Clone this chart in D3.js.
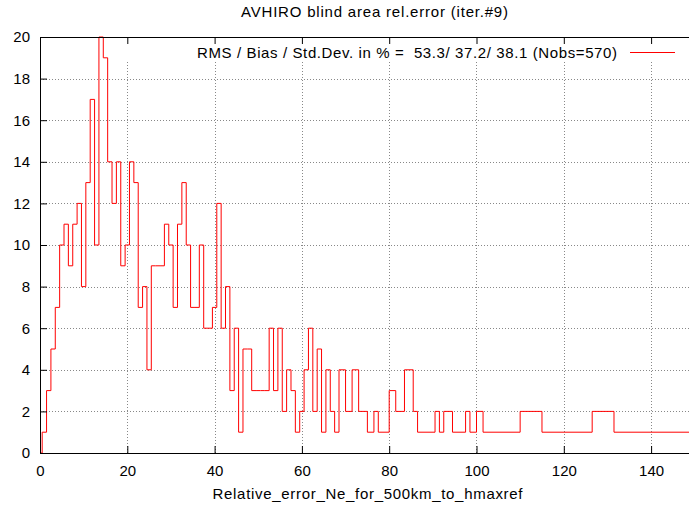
<!DOCTYPE html>
<html>
<head>
<meta charset="utf-8">
<script src="https://cdn.jsdelivr.net/npm/d3@7"></script>
<style>
  html, body { margin: 0; padding: 0; background: #fff; }
  svg { display: block; font-family: "Liberation Sans", Arial, sans-serif; }
</style>
</head>
<body>
<svg id="chart" width="689" height="508"></svg>
<script>
// Histogram of relative error: each step starts at stepStart[i] and holds counts[i]
const stepStart = [
  0, 0.5, 1.5, 2.5, 3.5, 4.5, 5.5, 6.5, 7.5, 8.5, 9.5,
  10.5, 11.5, 12.5, 13.5, 14.5, 15.5, 16.5, 17.5, 18.5, 19.5,
  20.5, 21.5, 22.5, 23.5, 24.5, 25.5, 26.5, 27.5, 28.5, 29.5,
  30.5, 31.5, 32.5, 33.5, 34.5, 35.5, 36.5, 37.5, 38.5, 39.5,
  40.5, 41.5, 42.5, 43.5, 44.5, 45.5, 46.5, 47.5, 48.5, 49.5,
  50.5, 51.5, 52.5, 53.5, 54.5, 55.5, 56.5, 57.5, 58.5, 59.5,
  60.5, 61.5, 62.5, 63.5, 64.5, 65.5, 66.5, 67.5,
  68.5, 70, 71.5, 73, 75, 76.5, 77.5, 80, 81.5, 83.5, 85.5, 86.5,
  90.5, 91.5, 92.5, 94.5, 97.5, 98.5, 100, 101.5, 110, 115, 126.5, 131.5
];
const counts = [
  0, 1, 3, 5, 7, 10, 11, 9, 11, 12, 8,
  13, 17, 10, 20, 19, 14, 12, 14, 9, 10,
  14, 13, 7, 8, 4, 9, 9, 9, 11, 10,
  7, 11, 13, 10, 7, 7, 10, 6, 6, 7,
  12, 6, 8, 3, 6, 1, 5, 5, 3, 3,
  3, 3, 6, 3, 6, 2, 4, 3, 1, 2,
  4, 6, 2, 5, 1, 4, 2, 1,
  4, 2, 4, 2, 1, 2, 1, 3, 2, 4, 2, 1,
  2, 1, 2, 1, 2, 1, 2, 1, 2, 1, 2, 1
];
const xEnd = 150;

const xTicks = [0, 20, 40, 60, 80, 100, 120, 140];
const yTicks = [0, 2, 4, 6, 8, 10, 12, 14, 16, 18, 20];

const titleText = "AVHIRO blind area rel.error (iter.#9)";
const xLabel = "Relative_error_Ne_for_500km_to_hmaxref";
const keyText = "RMS / Bias / Std.Dev. in % =  53.3/ 37.2/ 38.1 (Nobs=570)";

const svg = d3.select("#chart");
const plotLeft = 40, plotBottom = 453, plotTop = 37;
const x = d3.scaleLinear().domain([0, 150]).range([plotLeft, plotLeft + 150 * 4.365]);
const y = d3.scaleLinear().domain([0, 20]).range([plotBottom, plotTop]);
const plotRight = x.range()[1];

// grid
const grid = svg.append("g").attr("stroke", "#888").attr("stroke-width", 1)
  .attr("stroke-dasharray", "1,2");
grid.selectAll(".gy").data(yTicks.filter(v => v > 0 && v < 20)).join("line")
  .attr("x1", plotLeft).attr("x2", plotRight)
  .attr("y1", d => Math.round(y(d)) + 0.5).attr("y2", d => Math.round(y(d)) + 0.5);
grid.selectAll(".gx").data(xTicks.filter(v => v > 0)).join("line")
  .attr("x1", d => Math.round(x(d)) + 0.5).attr("x2", d => Math.round(x(d)) + 0.5)
  .attr("y1", plotBottom).attr("y2", 60);

// histogram steps
const pts = stepStart.map((s, i) => [s, counts[i]]);
pts.push([xEnd, counts[counts.length - 1]]);
svg.append("defs").append("clipPath").attr("id", "plotclip")
  .append("rect").attr("x", plotLeft).attr("y", plotTop - 1)
  .attr("width", plotRight - plotLeft).attr("height", plotBottom - plotTop + 2);
svg.append("path")
  .attr("clip-path", "url(#plotclip)")
  .attr("d", d3.line().x(d => x(d[0])).y(d => y(d[1])).curve(d3.curveStepAfter)(pts))
  .attr("fill", "none").attr("stroke", "#ff0000").attr("stroke-width", 1);

// axes (ticks point inward)
const fontSize = 15;
const xAxis = svg.append("g").attr("transform", `translate(0,${plotBottom})`)
  .call(d3.axisBottom(x).tickValues(xTicks).tickFormat(d3.format("d"))
    .tickSizeInner(-7).tickSizeOuter(0).tickPadding(12));
const xTopAxis = svg.append("g").attr("transform", `translate(0,${plotTop})`)
  .call(d3.axisTop(x).tickValues(xTicks).tickFormat("").tickSizeInner(-7).tickSizeOuter(0));
const yAxis = svg.append("g").attr("transform", `translate(${plotLeft},0)`)
  .call(d3.axisLeft(y).tickValues(yTicks).tickFormat(d3.format("d"))
    .tickSizeInner(-7).tickSizeOuter(0).tickPadding(10));
[xAxis, xTopAxis, yAxis].forEach(g => {
  g.select(".domain").remove();
  g.selectAll("line").attr("stroke", "#000");
  g.selectAll("text").attr("fill", "#000").style("font-size", fontSize + "px")
    .style("font-family", "'Liberation Sans', Arial, sans-serif");
});

// border (left, bottom, top)
svg.append("path")
  .attr("d", `M${plotRight},${plotTop + 0.5}H${plotLeft + 0.5}V${plotBottom + 0.5}H${plotRight}`)
  .attr("fill", "none").attr("stroke", "#000").attr("stroke-width", 1);

// title and axis label
svg.append("text").attr("x", 374.5).attr("y", 17).attr("text-anchor", "middle")
  .attr("textLength", 267).attr("lengthAdjust", "spacing")
  .style("font-size", fontSize + "px").text(titleText);
svg.append("text").attr("x", 367.5).attr("y", 499).attr("text-anchor", "middle")
  .attr("textLength", 310).attr("lengthAdjust", "spacing")
  .style("font-size", fontSize + "px").text(xLabel);

// key
svg.append("text").attr("x", 617).attr("y", 58).attr("text-anchor", "end")
  .attr("textLength", 420).attr("lengthAdjust", "spacing")
  .style("font-size", fontSize + "px").style("white-space", "pre").text(keyText);
svg.append("line").attr("x1", 630).attr("x2", 675).attr("y1", 52.5).attr("y2", 52.5)
  .attr("stroke", "#ff0000").attr("stroke-width", 1);
</script>
</body>
</html>
